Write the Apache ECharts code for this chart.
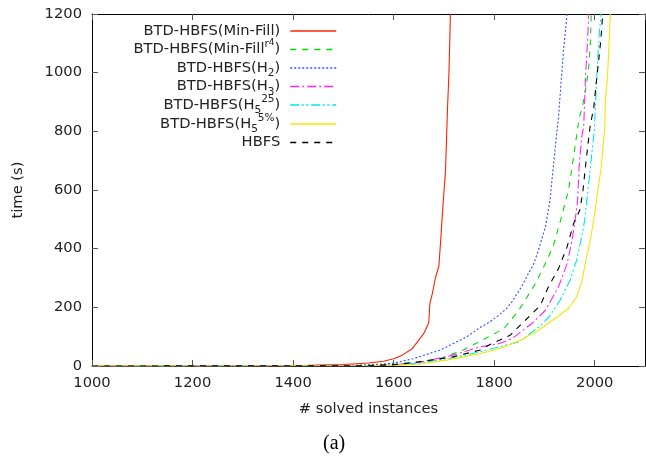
<!DOCTYPE html>
<html>
<head>
<meta charset="utf-8">
<script src="https://cdn.jsdelivr.net/npm/echarts@6/dist/echarts.min.js"></script>
<style>
html,body{margin:0;padding:0;background:#fff;}
#chart{width:646px;height:462px;}
</style>
</head>
<body>
<div id="chart"></div>
<script>
// ---- data ----
const seriesNames = [
  'BTD-HBFS(Min-Fill)',
  'BTD-HBFS(Min-Fill^r4)',
  'BTD-HBFS(H2)',
  'BTD-HBFS(H3)',
  'BTD-HBFS(H5^25)',
  'BTD-HBFS(H5^5%)',
  'HBFS'
];
const legendLabels = [
  'BTD-HBFS(Min-Fill)',
  'BTD-HBFS(Min-Fill{sup|r}{sup2|4})',
  'BTD-HBFS(H{sub|2})',
  'BTD-HBFS(H{sub|3})',
  'BTD-HBFS(H{sub|5}{sup|25})',
  'BTD-HBFS(H{sub|5}{sup|5%})',
  'HBFS'
];

const minFillX = [1000,1400,1450,1500,1550,1580,1600,1617,1637,1650,1660,1668,1670,1672,1677,1683,1690,1694,1698,1703,1707,1710,1713];
const minFillY = [0,1,3,5,10,16,25,37,59,88,111,140,150,213,247,300,340,440,545,660,870,1000,1200];

const minFillR4X = [1000,1550,1600,1650,1692,1738,1785,1809,1822,1849,1882,1905,1918,1931,1948,1958,1969,1975,1978,1983,1988,1991,1993];
const minFillR4Y = [0,2,6,14,25,54,96,118,133,190,281,361,412,490,600,714,845,880,907,952,1020,1089,1200];

const h2X = [1000,1500,1550,1597,1639,1692,1745,1769,1791,1809,1824,1835,1855,1868,1878,1888,1902,1911,1915,1921,1928,1933,1938,1945];
const h2Y = [0,1,4,9,25,54,99,128,150,173,195,218,272,315,345,395,474,566,634,736,850,964,1078,1200];

const h3X = [1000,1550,1600,1650,1718,1771,1809,1835,1875,1902,1928,1945,1955,1961,1966,1969,1974,1978,1980,1982,1986,1988];
const h3Y = [0,1,4,12,37,65,76,93,145,190,270,349,429,497,566,679,780,816,907,998,1112,1200];

const h5p25X = [1000,1550,1600,1650,1718,1771,1809,1849,1889,1909,1931,1951,1964,1974,1980,1988,1994,1999,2002,2005,2009,2013];
const h5p25Y = [0,1,3,10,28,48,65,82,133,167,224,292,361,440,497,623,720,800,907,1020,1134,1200];

const h5p5X = [1000,1550,1600,1650,1705,1771,1809,1835,1857,1888,1921,1948,1964,1974,1984,1991,1998,2003,2013,2020,2021,2025,2028,2031];
const h5p5Y = [0,1,2,6,20,42,59,76,92,122,162,196,236,287,372,429,497,560,679,816,907,975,1078,1200];

const hbfsX = [1000,1550,1600,1650,1718,1771,1789,1832,1872,1892,1908,1928,1945,1958,1970,1976,1983,1991,1998,2003,2008,2012,2016];
const hbfsY = [0,1,4,14,31,54,71,105,173,207,270,332,406,486,530,589,702,820,880,965,1043,1110,1200];

const xMin = 1000, xMax = 2100, xStep = 200;
const yMin = 0, yMax = 1200, yStep = 200;

// ---- styling ----
const colors = ['#ff2000', '#00dd00', '#2f4fff', '#ff22ff', '#00e8e8', '#f5e600', '#000000'];
const dashes = [
  'solid',
  [6, 6],
  [2, 2],
  [9, 3, 2, 3],
  [9, 2.5, 2, 2.5, 2, 3],
  'solid',
  [6, 6]
];
const xs = [minFillX, minFillR4X, h2X, h3X, h5p25X, h5p5X, hbfsX];
const ys = [minFillY, minFillR4Y, h2Y, h3Y, h5p25Y, h5p5Y, hbfsY];
const rowCenters = [31, 49.5, 68, 86.5, 105, 124, 142.5];

const FONT = 'DejaVu Sans';
const FS = 14.7;

const series = seriesNames.map((name, i) => ({
  name: name,
  type: 'line',
  xAxisIndex: 0,
  yAxisIndex: 0,
  symbol: 'none',
  showSymbol: false,
  animation: false,
  silent: true,
  z: 2 + i,
  data: xs[i].map((x, k) => [x, ys[i][k]]),
  lineStyle: { color: colors[i], width: 1.1, type: dashes[i] },
  itemStyle: { color: colors[i] }
}));

const rich = {
  sub: { fontFamily: FONT, fontSize: 10.5, lineHeight: 11, verticalAlign: 'bottom', color: '#222' },
  sup: { fontFamily: FONT, fontSize: 10.5, lineHeight: 11, verticalAlign: 'top', color: '#222' },
  sup2: { fontFamily: FONT, fontSize: 9, lineHeight: 14, verticalAlign: 'top', color: '#222' }
};

const legends = seriesNames.map((name, i) => ({
  data: [name],
  right: 309,
  top: rowCenters[i] - 11,
  padding: 0,
  align: 'right',
  itemWidth: 46,
  itemHeight: 10,
  selectedMode: false,
  formatter: () => legendLabels[i],
  lineStyle: { width: 1.5, color: colors[i] },
  itemStyle: { opacity: 0 },
  textStyle: {
    fontFamily: FONT,
    fontSize: FS,
    color: '#222',
    lineHeight: 22,
    padding: [0, 5, 0, 0],
    rich: rich
  }
}));

const axisTick = { show: true, inside: true, length: 6, lineStyle: { color: '#555', width: 1 } };
const axisLine = { show: true, onZero: false, lineStyle: { color: '#000', width: 1 } };
const plainNum = v => String(v);

const option = {
  backgroundColor: '#fff',
  animation: false,
  grid: { left: 92, right: 1, top: 14, bottom: 96, containLabel: false },
  legend: legends,
  xAxis: [
    {
      type: 'value', min: xMin, max: xMax, interval: xStep, position: 'bottom',
      name: '# solved instances', nameLocation: 'middle', nameGap: 36,
      nameTextStyle: { fontFamily: FONT, fontSize: FS, color: '#222' },
      axisLine: axisLine, axisTick: axisTick, splitLine: { show: false },
      axisLabel: { showMaxLabel: false, margin: 10, fontFamily: FONT, fontSize: FS, color: '#222', formatter: plainNum }
    },
    {
      type: 'value', min: xMin, max: xMax, interval: xStep, position: 'top',
      axisLine: axisLine, axisTick: axisTick, splitLine: { show: false },
      axisLabel: { show: false }
    }
  ],
  yAxis: [
    {
      type: 'value', min: yMin, max: yMax, interval: yStep, position: 'left',
      name: 'time (s)', nameLocation: 'middle', nameGap: 66,
      nameTextStyle: { fontFamily: FONT, fontSize: FS, color: '#222' },
      axisLine: axisLine, axisTick: axisTick, splitLine: { show: false },
      axisLabel: { margin: 10, fontFamily: FONT, fontSize: FS, color: '#222', formatter: plainNum }
    },
    {
      type: 'value', min: yMin, max: yMax, interval: yStep, position: 'right',
      axisLine: axisLine, axisTick: axisTick, splitLine: { show: false },
      axisLabel: { show: false }
    }
  ],
  graphic: [
    {
      type: 'text', left: 323, top: 434,
      style: { text: '(a)', font: '20px "Liberation Serif", "Times New Roman", serif', fill: '#000' }
    }
  ],
  series: series
};

const chart = echarts.init(document.getElementById('chart'), null, { renderer: 'canvas' });
chart.setOption(option);
</script>
</body>
</html>
